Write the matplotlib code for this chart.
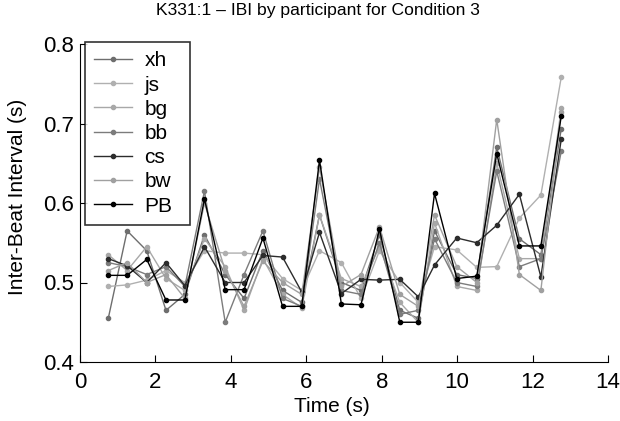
import numpy as np
from matplotlib import pyplot as plt

plt.rcParams['font.family'] = ['Liberation Sans', 'DejaVu Sans']

# beat times (s)
t = [0.75, 1.25, 1.77, 2.28, 2.78, 3.30, 3.85, 4.35, 4.85, 5.37, 5.88, 6.35,
     6.93, 7.45, 7.94, 8.48, 8.97, 9.40, 9.99, 10.52, 11.05, 11.65, 12.22, 12.76]

# inter-beat intervals (s) per participant
xh = [0.455, 0.565, 0.540, 0.465, 0.485, 0.560, 0.510, 0.480, 0.540, 0.490, 0.475, 0.585,
      0.500, 0.490, 0.560, 0.465, 0.455, 0.565, 0.510, 0.505, 0.670, 0.555, 0.535, 0.693]
js = [0.495, 0.497, 0.503, 0.515, 0.500, 0.540, 0.537, 0.537, 0.535, 0.505, 0.490, 0.540,
      0.525, 0.480, 0.540, 0.500, 0.475, 0.545, 0.541, 0.519, 0.520, 0.581, 0.610, 0.758]
bg = [0.535, 0.515, 0.545, 0.505, 0.490, 0.555, 0.520, 0.465, 0.530, 0.485, 0.468, 0.585,
      0.505, 0.495, 0.545, 0.475, 0.450, 0.575, 0.495, 0.490, 0.650, 0.530, 0.530, 0.719]
bb = [0.525, 0.520, 0.510, 0.520, 0.495, 0.615, 0.450, 0.510, 0.565, 0.480, 0.470, 0.630,
      0.490, 0.485, 0.550, 0.460, 0.465, 0.555, 0.500, 0.495, 0.640, 0.520, 0.530, 0.665]
cs = [0.530, 0.521, 0.500, 0.525, 0.496, 0.545, 0.500, 0.500, 0.534, 0.532, 0.488, 0.563,
      0.486, 0.504, 0.503, 0.504, 0.482, 0.522, 0.556, 0.550, 0.572, 0.611, 0.507, 0.680]
bw = [0.515, 0.525, 0.500, 0.510, 0.480, 0.600, 0.515, 0.470, 0.527, 0.500, 0.485, 0.645,
      0.495, 0.510, 0.570, 0.485, 0.470, 0.585, 0.520, 0.500, 0.705, 0.510, 0.490, 0.715]
PB = [0.509, 0.509, 0.529, 0.478, 0.478, 0.605, 0.491, 0.491, 0.556, 0.470, 0.470, 0.654,
      0.473, 0.472, 0.567, 0.450, 0.450, 0.612, 0.505, 0.508, 0.662, 0.546, 0.546, 0.709]

names = ['xh', 'js', 'bg', 'bb', 'cs', 'bw', 'PB']
series = [xh, js, bg, bb, cs, bw, PB]
colors = ['#6e6e6e', '#b0b0b0', '#a8a8a8', '#7c7c7c', '#2c2c2c', '#a0a0a0', '#000000']

fig = plt.figure(figsize=(6.2, 4.21), dpi=100)
ax = fig.add_axes([80 / 620, 1 - 362 / 421, 528 / 620, 318 / 421])

for name, y, c in zip(names, series, colors):
    ax.plot(t, y, '-', color=c, linewidth=1.0, marker='o', markersize=3.0, label=name)

ax.set_xlim(0, 14)
ax.set_ylim(0.4, 0.8)
ax.set_xticks(np.arange(0, 15, 2))
ax.set_yticks([0.4, 0.5, 0.6, 0.7, 0.8])
ax.tick_params(direction='in', labelsize=16, length=5)
ax.tick_params(axis='x', pad=7)
ax.tick_params(axis='y', pad=4)
ax.spines['top'].set_visible(False)
ax.spines['right'].set_visible(False)

fig.text(318 / 620, 1 - 10 / 421, 'K331:1 \u2013 IBI by participant for Condition 3',
         fontsize=12.6, ha='center', va='center')
ax.set_xlabel('Time (s)', fontsize=15)
ax.set_ylabel('Inter-Beat Interval (s)', fontsize=15)
ax.xaxis.set_label_coords((332 - 80) / 528, -0.11)
ax.yaxis.set_label_coords((27 - 80) / 528, (362 - 197) / 318)

leg = ax.legend(loc='upper left',
                bbox_to_anchor=(85 / 620, 1 - 227 / 421, 105 / 620, 185 / 421),
                bbox_transform=fig.transFigure, mode='expand', fontsize=15,
                frameon=True, fancybox=False, edgecolor='black', borderpad=0.45,
                labelspacing=0.25, handlelength=1.8, handletextpad=0.6,
                borderaxespad=0)
leg.get_frame().set_linewidth(1.2)

plt.savefig('out.png', dpi=100)
